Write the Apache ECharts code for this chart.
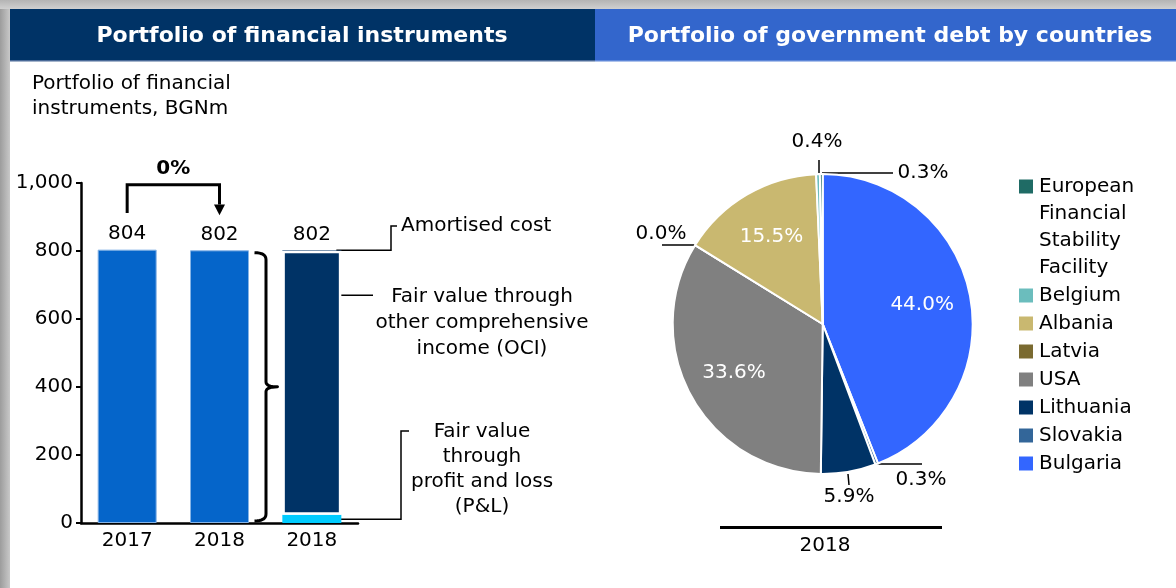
<!DOCTYPE html>
<html><head><meta charset="utf-8">
<script src="https://cdn.jsdelivr.net/npm/echarts@6/dist/echarts.min.js"></script>
<style>html,body{margin:0;padding:0;background:#fff}#c{width:1176px;height:588px}</style>
</head><body><div id="c"></div>
<script>
// ---------- data ----------
const barCategories = ['2017', '2018', '2018'];
const yTicks = [0, 200, 400, 600, 800, 1000];
const totalValues = [804, 802, null];
const plValues = [null, null, 24];
const ociValues = [null, null, 777];
const amortValues = [null, null, 1];
const changeLabel = '0%';

const pieNames = ['Bulgaria', 'Slovakia', 'Lithuania', 'USA', 'Latvia', 'Albania', 'Belgium', 'European Financial Stability Facility'];
const pieValues = [44.0, 0.3, 5.9, 33.6, 0.0, 15.5, 0.4, 0.3];
const pieColors = ['#3366FF', '#336699', '#003366', '#808080', '#7A6A30', '#C9B870', '#6BBDBD', '#1F6B65'];
const legendOrder = ['European Financial Stability Facility', 'Belgium', 'Albania', 'Latvia', 'USA', 'Lithuania', 'Slovakia', 'Bulgaria'];
const pieYear = '2018';

// ---------- layout / style ----------
const F = '"DejaVu Sans", Verdana, sans-serif';
const PIE_C = [822.7, 324], PIE_R = 150;
const innerIdx = [0, 3, 5];
const outerLayout = {
  1: {x: 921, y: 480, line: [[877, 464], [922, 464]]},
  2: {x: 849, y: 497, line: [[848, 474], [849, 485]]},
  4: {x: 661, y: 234, line: [[695, 245], [662, 245]]},
  6: {x: 817, y: 142, line: [[819, 173], [819, 160]]},
  7: {x: 923, y: 173, line: [[822, 173], [893, 173]]}
};
const pieTotal = pieValues.reduce((a, b) => a + b, 0);
function midAngle(i) {
  let before = 0;
  for (let k = 0; k < i; k++) before += pieValues[k];
  return (before + pieValues[i] / 2) / pieTotal * Math.PI * 2;
}

const chart = echarts.init(document.getElementById('c'));
const EFSF = legendOrder[0];

const option = {
  animation: false,
  grid: {left: 81, top: 183, width: 277, height: 340},
  xAxis: {
    type: 'category', data: barCategories,
    axisLine: {lineStyle: {color: '#000', width: 2.5}},
    axisTick: {show: false},
    axisLabel: {fontFamily: F, fontSize: 20, color: '#000', margin: 8}
  },
  yAxis: {
    type: 'value', min: yTicks[0], max: yTicks[yTicks.length - 1], interval: yTicks[1] - yTicks[0],
    axisLine: {show: true, lineStyle: {color: '#000', width: 2.5}},
    axisTick: {show: true, length: 5, lineStyle: {color: '#000', width: 2}},
    splitLine: {show: false},
    axisLabel: {fontFamily: F, fontSize: 20, color: '#000', margin: 8,
      formatter: v => v.toLocaleString('en-US')}
  },
  legend: {
    orient: 'vertical', left: 1017, top: 92, padding: 0,
    itemWidth: 16, itemHeight: 16, itemGap: 1, icon: 'rect', selectedMode: false,
    textStyle: {fontFamily: F, fontSize: 20, color: '#000', lineHeight: 27},
    formatter: n => n === EFSF ? '\n\n\n' + n.split(' ').join('\n') : n,
    data: legendOrder
  },
  series: [
    {type: 'bar', name: 'Total', stack: 'a', data: totalValues, barWidth: 59,
      itemStyle: {color: '#0565CA', borderColor: '#86b4e6', borderWidth: 1},
      label: {show: true, position: 'top', distance: 6, fontFamily: F, fontSize: 20, color: '#000'}},
    {type: 'bar', name: 'P&L', stack: 'a', data: plValues, barWidth: 59,
      itemStyle: {color: '#00CCFF', borderWidth: 0}},
    {type: 'bar', name: 'OCI', stack: 'a', data: ociValues, barWidth: 59,
      itemStyle: {color: '#003366', borderColor: '#fff', borderWidth: 2.5}},
    {type: 'bar', name: 'Amortised cost', stack: 'a', data: amortValues, barWidth: 59,
      itemStyle: {color: '#003366', borderWidth: 0},
      label: {show: true, position: 'top', distance: 6, fontFamily: F, fontSize: 20, color: '#000',
        formatter: p => String((plValues[p.dataIndex] || 0) + (ociValues[p.dataIndex] || 0) + (amortValues[p.dataIndex] || 0))}},
    {type: 'pie', center: PIE_C, radius: PIE_R, startAngle: 90, clockwise: true,
      avoidLabelOverlap: false, minShowLabelAngle: 0,
      itemStyle: {borderColor: '#fff', borderWidth: 2},
      label: {show: true, position: 'outside', fontFamily: F, fontSize: 20, color: '#000',
        formatter: p => p.value.toFixed(1) + '%'},
      labelLine: {show: true, length: 8, length2: 8, lineStyle: {color: '#000', width: 1.5}},
      labelLayout: function (p) {
        const i = p.dataIndex;
        if (innerIdx.indexOf(i) >= 0) {
          const a = midAngle(i), r = PIE_R * 0.675;
          return {x: PIE_C[0] + r * Math.sin(a), y: PIE_C[1] - r * Math.cos(a), align: 'center', verticalAlign: 'middle'};
        }
        const o = outerLayout[i];
        return {x: o.x, y: o.y, align: 'center', verticalAlign: 'middle', labelLinePoints: o.line};
      },
      emphasis: {disabled: true},
      data: pieNames.map((n, i) => {
        const d = {name: n, value: pieValues[i], itemStyle: {color: pieColors[i]}};
        if (innerIdx.indexOf(i) >= 0) { d.label = {color: '#fff'}; d.labelLine = {show: false}; }
        return d;
      })}
  ]
};
chart.setOption(option);

// ---------- annotations (anchored to axes) ----------
const px = (c, v) => chart.convertToPixel({gridIndex: 0}, [c, v]);
const bw = 59;
const p0s = px(0, 912), p0t = px(0, 995), p1t = px(1, 995), p1b = px(1, 937), p1tip = px(1, 905);
const lblX = (p0t[0] + p1t[0]) / 2, lblY = px(0, 1042)[1];
const bTop = px(1, 795)[1], bBot = px(1, 6)[1], bMid = (bTop + bBot) / 2;
const bx0 = px(1, 0)[0] + bw / 2 + 5.5, bx1 = bx0 + 11.5, bx2 = bx0 + 23;
const r3 = px(2, 0)[0] + bw / 2 - 5;
const yAm = px(2, 802)[1], yOci = px(2, 670)[1], yPl = px(2, 11)[1];
const blk = {stroke: '#000', lineWidth: 1.5, fill: null};

function quad(p0, c, p1, n) {
  const out = [];
  for (let k = 0; k <= n; k++) {
    const t = k / n, u = 1 - t;
    out.push([u * u * p0[0] + 2 * u * t * c[0] + t * t * p1[0], u * u * p0[1] + 2 * u * t * c[1] + t * t * p1[1]]);
  }
  return out;
}
const bracePts = [].concat(
  quad([bx0, bTop], [bx1, bTop], [bx1, bTop + 7], 8),
  quad([bx1, bMid - 5], [bx1, bMid], [bx2, bMid], 8),
  quad([bx2, bMid], [bx1, bMid], [bx1, bMid + 5], 8),
  quad([bx1, bBot - 7], [bx1, bBot], [bx0, bBot], 8)
);

const graphics = [
  {type: 'rect', shape: {x: 0, y: 0, width: 10, height: 588}, style: {fill: new echarts.graphic.LinearGradient(0, 0, 1, 0, [{offset: 0, color: '#9c9c9c'}, {offset: 1, color: '#c8c8c8'}])}},
  {type: 'rect', shape: {x: 0, y: 0, width: 1176, height: 9}, style: {fill: new echarts.graphic.LinearGradient(0, 0, 0, 1, [{offset: 0, color: '#b4b4b4'}, {offset: 1, color: '#d0d0d0'}])}},
  {type: 'rect', shape: {x: 10, y: 9, width: 585, height: 52}, style: {fill: '#003366'}},
  {type: 'rect', shape: {x: 595, y: 9, width: 581, height: 52}, style: {fill: '#3366CC'}},
  {type: 'rect', shape: {x: 10, y: 60, width: 585, height: 1.5}, style: {fill: '#4a6a98'}},
  {type: 'rect', shape: {x: 595, y: 60, width: 581, height: 1.5}, style: {fill: '#5d86d8'}},
  {type: 'text', x: 302, y: 36, style: {text: 'Portfolio of financial instruments', fill: '#fff', font: 'bold 22px ' + F, align: 'center', verticalAlign: 'middle'}},
  {type: 'text', x: 890, y: 36, style: {text: 'Portfolio of government debt by countries', fill: '#fff', font: 'bold 22px ' + F, align: 'center', verticalAlign: 'middle'}},
  {type: 'text', x: 32, y: 71, style: {text: 'Portfolio of financial\ninstruments, BGNm', fill: '#000', font: '20px ' + F, lineHeight: 25, align: 'left', verticalAlign: 'top'}},
  // change arrow
  {type: 'polyline', shape: {points: [p0s, p0t, p1t, p1b]}, style: {stroke: '#000', lineWidth: 3, fill: null}},
  {type: 'polygon', shape: {points: [[p1b[0] - 5.5, p1b[1]], [p1b[0] + 5.5, p1b[1]], [p1tip[0], p1tip[1]]]}, style: {fill: '#000'}},
  {type: 'text', x: lblX, y: lblY, style: {text: changeLabel, fill: '#000', font: 'bold 20px ' + F, align: 'center', verticalAlign: 'middle'}},
  // brace
  {type: 'polyline', shape: {points: bracePts}, style: {stroke: '#000', lineWidth: 3, fill: null, lineJoin: 'round'}},
  // leader lines
  {type: 'polyline', shape: {points: [[r3, yAm], [391, yAm], [391, 226], [397, 226]]}, style: blk},
  {type: 'text', x: 401, y: 226, style: {text: 'Amortised cost', fill: '#000', font: '20px ' + F, align: 'left', verticalAlign: 'middle'}},
  {type: 'polyline', shape: {points: [[r3, yOci], [373, yOci]]}, style: blk},
  {type: 'text', x: 482, y: 323, style: {text: 'Fair value through\nother comprehensive\nincome (OCI)', fill: '#000', font: '20px ' + F, lineHeight: 26, align: 'center', verticalAlign: 'middle'}},
  {type: 'polyline', shape: {points: [[r3, yPl], [401, yPl], [401, 431], [409, 431]]}, style: blk},
  {type: 'text', x: 482, y: 469.5, style: {text: 'Fair value\nthrough\nprofit and loss\n(P&L)', fill: '#000', font: '20px ' + F, lineHeight: 25, align: 'center', verticalAlign: 'middle'}},
  // pie year
  {type: 'rect', shape: {x: 720, y: 526, width: 222, height: 3}, style: {fill: '#000'}},
  {type: 'text', x: 825, y: 546, style: {text: pieYear, fill: '#000', font: '20px ' + F, align: 'center', verticalAlign: 'middle'}}
];
chart.setOption({graphic: graphics});
</script>
</body></html>
